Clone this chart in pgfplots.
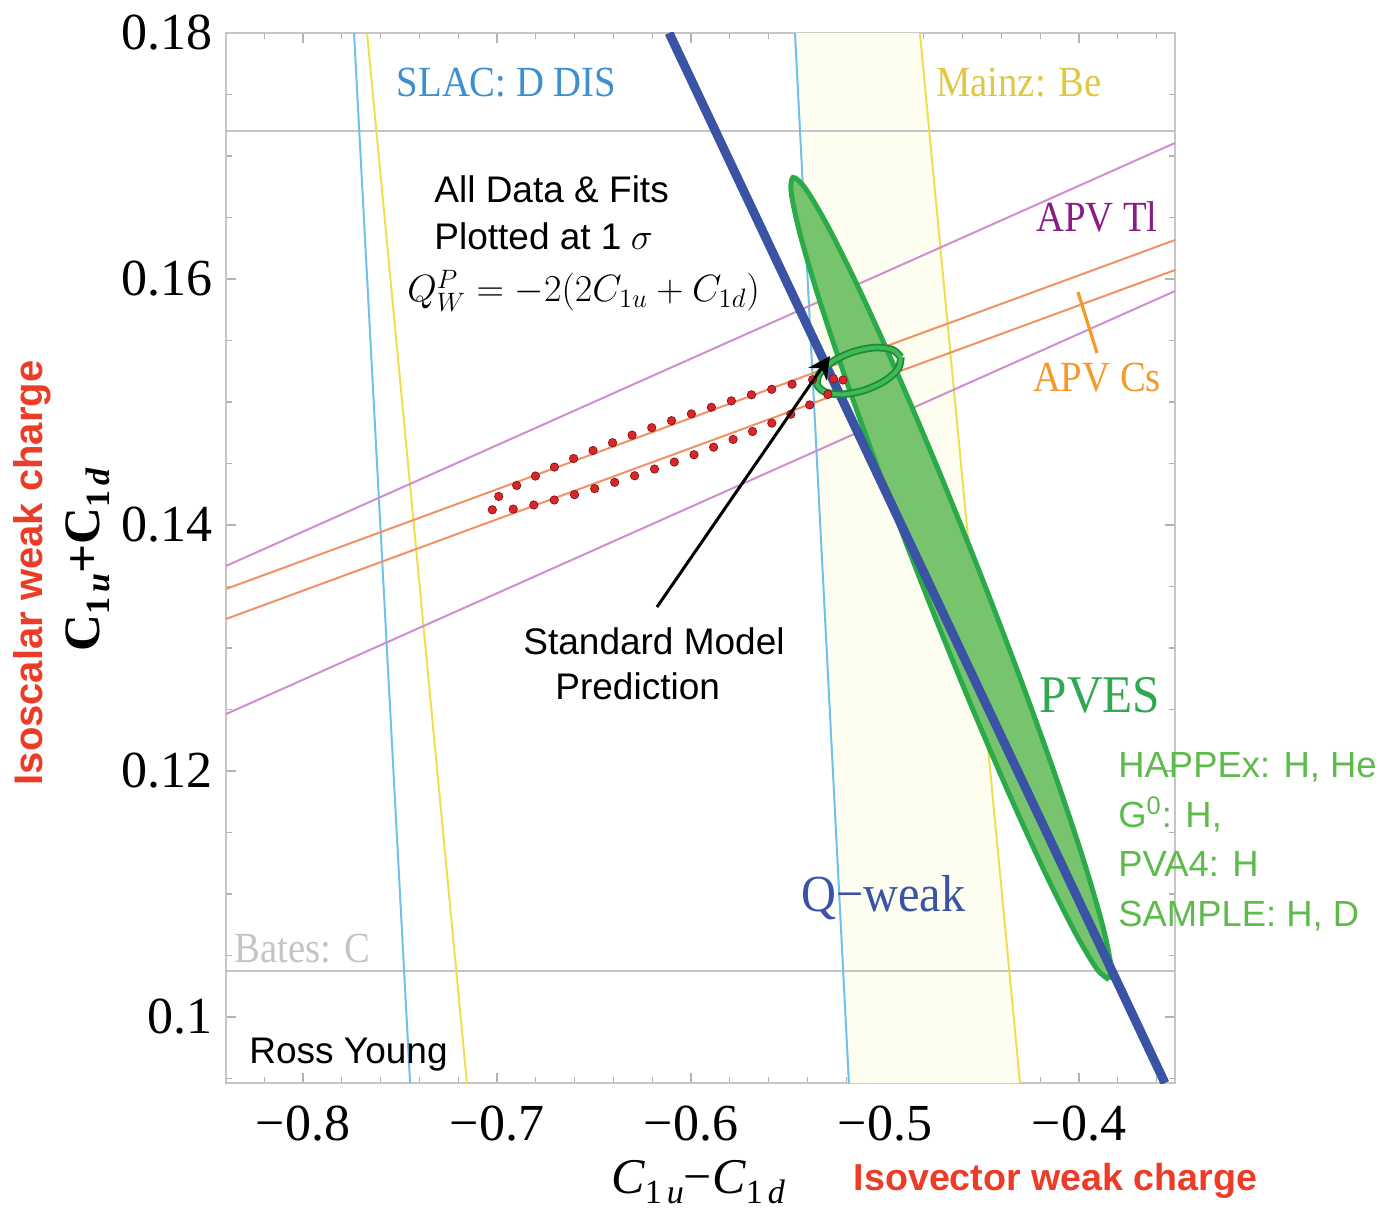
\RequirePackage{fix-cm}
\documentclass[border=0pt]{standalone}
\usepackage{fontspec}
\setmainfont{Liberation Serif}
\newfontfamily\sans{Liberation Sans}
\usepackage{graphicx}
\usepackage{pgfplots}
\pgfplotsset{compat=1.18}
\usetikzlibrary{arrows.meta}
\definecolor{slac}{HTML}{6EC1EA}
\definecolor{slactext}{HTML}{3D8FCF}
\definecolor{mainz}{HTML}{F0DE50}
\definecolor{mainztext}{HTML}{E0C846}
\definecolor{bandfill}{HTML}{FDFDF0}
\definecolor{apvtl}{HTML}{CF8ECF}
\definecolor{apvtltext}{HTML}{8A1C86}
\definecolor{apvcs}{HTML}{F29066}
\definecolor{apvcstext}{HTML}{F39A2A}
\definecolor{qweak}{HTML}{3A53A4}
\definecolor{pvesfill}{HTML}{78C46E}
\definecolor{pvesdraw}{HTML}{2AAA48}
\definecolor{pvestext}{HTML}{2FA84F}
\definecolor{happex}{HTML}{5CBB4A}
\definecolor{hgray}{HTML}{BFC6CA}
\definecolor{batestext}{HTML}{C4C4C4}
\definecolor{redlab}{HTML}{EC3B26}
\definecolor{dotred}{HTML}{D8262A}
\definecolor{dotdark}{HTML}{7A1010}
\definecolor{ringdark}{HTML}{1F8A3A}
\definecolor{ringlight}{HTML}{3DBB55}
\newcommand{\serlab}[1]{\scalebox{0.9}[1]{\fontsize{21.5}{21.5}\selectfont #1}}
\newcommand{\Csub}[1]{\raisebox{-5pt}{\fontsize{17}{17}\selectfont 1\kern2.5pt\textit{#1}}}
\begin{document}
\begin{tikzpicture}
\begin{axis}[
  scale only axis, width=474.5pt, height=525pt,
  xmin=-0.8397, xmax=-0.3505, ymin=0.094634, ymax=0.18,
  xtick={-0.8,-0.7,-0.6,-0.5,-0.4},
  xticklabels={−0.8,−0.7,−0.6,−0.5,−0.4},
  ytick={0.1,0.12,0.14,0.16,0.18},
  yticklabels={0.1,0.12,0.14,0.16,0.18},
  minor xtick={-0.82,-0.78,-0.76,-0.74,-0.72,-0.68,-0.66,-0.64,-0.62,-0.58,-0.56,-0.54,-0.52,-0.48,-0.46,-0.44,-0.42,-0.38,-0.36},
  minor ytick={0.095,0.105,0.11,0.115,0.125,0.13,0.135,0.145,0.15,0.155,0.165,0.17,0.175},
  tick style={color=gray!60, line width=0.6pt},
  major tick length=5pt, minor tick length=3pt,
  axis line style={draw=gray!45, line width=0.8pt},
  ticklabel style={font=\fontsize{26}{26}\selectfont},
  xticklabel style={yshift=-8pt},
  yticklabel style={xshift=-3pt},
]
% Mainz band fill
\addplot[draw=none, fill=bandfill] coordinates {(-0.5464,0.18) (-0.4820,0.18) (-0.4304,0.094634) (-0.5186,0.094634)} -- cycle;
% horizontal Bates lines
\addplot[hgray, line width=1pt] coordinates {(-0.8397,0.17203) (-0.3505,0.17203)};
\addplot[hgray, line width=1pt] coordinates {(-0.8397,0.10374) (-0.3505,0.10374)};
% SLAC lines
\addplot[slac, line width=1pt] coordinates {(-0.7737,0.18) (-0.7448,0.094634)};
\addplot[slac, line width=1pt] coordinates {(-0.5464,0.18) (-0.5186,0.094634)};
% Mainz lines
\addplot[mainz, line width=1pt] coordinates {(-0.7670,0.18) (-0.7155,0.094634)};
\addplot[mainz, line width=1pt] coordinates {(-0.4820,0.18) (-0.4304,0.094634)};
% APV Tl
\addplot[apvtl, line width=1pt] coordinates {(-0.8397,0.13667) (-0.3505,0.17106)};
\addplot[apvtl, line width=1pt] coordinates {(-0.8397,0.12463) (-0.3505,0.15902)};
% APV Cs
\addplot[apvcs, line width=1pt] coordinates {(-0.8397,0.13480) (-0.3505,0.16317)};
\addplot[apvcs, line width=1pt] coordinates {(-0.8397,0.13236) (-0.3505,0.16073)};
% PVES ellipse
\addplot[smooth, fill=pvesfill, draw=pvesdraw, line width=2.5pt] coordinates {
(-0.384536,0.103048) (-0.383712,0.104383) (-0.388493,0.107848) (-0.398556,0.113208)
(-0.413213,0.120097) (-0.431467,0.128047) (-0.452072,0.136514) (-0.473625,0.144923)
(-0.494657,0.152699) (-0.513734,0.159314) (-0.529557,0.164316) (-0.541048,0.167365)
(-0.547422,0.168252) (-0.548246,0.166917) (-0.543465,0.163452) (-0.533402,0.158092)
(-0.518745,0.151203) (-0.500491,0.143253) (-0.479886,0.134786) (-0.458333,0.126377)
(-0.437301,0.118601) (-0.418224,0.111986) (-0.402401,0.106984) (-0.390910,0.103935)
(-0.384536,0.103048)};
% Q-weak
\addplot[qweak, line width=4.5pt] coordinates {(-0.6113,0.18) (-0.3557,0.094634)};
% combined fit ellipse (ring)
\addplot[smooth, ringdark, line width=3.8pt] coordinates {
(-0.491856,0.153640) (-0.493128,0.152717) (-0.499834,0.151742) (-0.510175,0.150975)
(-0.521380,0.150622) (-0.530448,0.150777) (-0.534948,0.151400) (-0.533676,0.152323)
(-0.526970,0.153298) (-0.516629,0.154065) (-0.505424,0.154418) (-0.496356,0.154263)
(-0.491856,0.153640)};
\addplot[smooth, ringlight, line width=2pt] coordinates {
(-0.491856,0.153640) (-0.493128,0.152717) (-0.499834,0.151742) (-0.510175,0.150975)
(-0.521380,0.150622) (-0.530448,0.150777) (-0.534948,0.151400) (-0.533676,0.152323)
(-0.526970,0.153298) (-0.516629,0.154065) (-0.505424,0.154418) (-0.496356,0.154263)
(-0.491856,0.153640)};
% APV red dotted ellipse (dark rim, red core)
\addplot[smooth, dotdark, line width=4.6pt, line cap=round, dash pattern=on 0pt off 10.5pt] coordinates {
(-0.521649,0.151788) (-0.532157,0.150326) (-0.564368,0.147862) (-0.609647,0.145055)
(-0.655864,0.142658) (-0.690633,0.141314) (-0.704639,0.141382) (-0.694131,0.142844)
(-0.661920,0.145308) (-0.616641,0.148115) (-0.570424,0.150512) (-0.535655,0.151856)
(-0.521649,0.151788)};
\addplot[smooth, dotred, line width=3.8pt, line cap=round, dash pattern=on 0pt off 10.5pt] coordinates {
(-0.521649,0.151788) (-0.532157,0.150326) (-0.564368,0.147862) (-0.609647,0.145055)
(-0.655864,0.142658) (-0.690633,0.141314) (-0.704639,0.141382) (-0.694131,0.142844)
(-0.661920,0.145308) (-0.616641,0.148115) (-0.570424,0.150512) (-0.535655,0.151856)
(-0.521649,0.151788)};
% APV Cs marker
\addplot[apvcstext, line width=1.6pt] coordinates {(-0.40052,0.15894) (-0.39072,0.15398)};
% Standard model arrow
\addplot[black, line width=1.5pt, -{Stealth[length=11pt,width=11pt]}] coordinates {(-0.617526,0.133333) (-0.528351,0.153740)};
\coordinate (O) at (rel axis cs:0,1);
\end{axis}
\begin{scope}[shift={(O)}, x=0.5pt, y=-0.5pt, every node/.style={inner sep=0pt}]
\path (-226,-33) rectangle (1155,1177);
\node[anchor=base, text=slactext] at (280.5,64) {\serlab{SLAC: D DIS}};
\node[anchor=base, text=mainztext] at (793,64) {\serlab{Mainz: Be}};
\node[anchor=base, text=apvtltext] at (871,199) {\serlab{APV Tl}};
\node[anchor=base, text=apvcstext] at (871,359) {\serlab{APV Cs}};
\node[anchor=base, text=pvestext] at (874,680) {\scalebox{0.93}[1]{\fontsize{26.5}{26.5}\selectfont PVES}};
\node[anchor=base, text=qweak] at (657.5,879) {\scalebox{0.93}[1]{\fontsize{26}{26}\selectfont Q−weak}};
\node[anchor=base, text=batestext] at (76.5,929) {\serlab{Bates: C}};
\node[anchor=base west] at (23,1030) {\sans\fontsize{18.5}{18.5}\selectfont Ross Young};
\node[anchor=base west] at (208,170) {\sans\fontsize{18.5}{18.5}\selectfont All Data \& Fits};
\node[anchor=base west] at (208,217) {\fontsize{18.5}{18.5}\selectfont{\sans Plotted at 1} $\sigma$};
\node[anchor=base west] at (181,269) {\fontsize{19}{19}\selectfont $Q^P_W=-2(2C_{1u}+C_{1d})$};
\node[anchor=base west] at (297,622) {\sans\fontsize{18.5}{18.5}\selectfont Standard Model};
\node[anchor=base west] at (329,667) {\sans\fontsize{18.5}{18.5}\selectfont Prediction};
\node[anchor=base west, text=happex] at (892,745) {\sans\fontsize{18.2}{18.2}\selectfont HAPPEx: H, He};
\node[anchor=base west, text=happex] at (892,795) {\sans\fontsize{18.2}{18.2}\selectfont G\textsuperscript{0}: H,};
\node[anchor=base west, text=happex] at (892,844) {\sans\fontsize{18.2}{18.2}\selectfont PVA4: H};
\node[anchor=base west, text=happex] at (892,894) {\sans\fontsize{18.2}{18.2}\selectfont SAMPLE: H, D};
\node[anchor=base] at (472,1160) {\fontsize{25}{25}\selectfont\textit{C}\Csub{u}−\textit{C}\Csub{d}};
\node[anchor=base, text=redlab] at (829.5,1157) {\sans\bfseries\fontsize{18.8}{18.8}\selectfont Isovector weak charge};
\node[anchor=base, rotate=90] at (-126,527) {\fontsize{25.5}{25.5}\selectfont\bfseries C\Csub{u}+C\Csub{d}};
\node[anchor=base, rotate=90, text=redlab] at (-183,540) {\sans\bfseries\fontsize{20}{20}\selectfont Isoscalar weak charge};
\end{scope}
\end{tikzpicture}
\end{document}
